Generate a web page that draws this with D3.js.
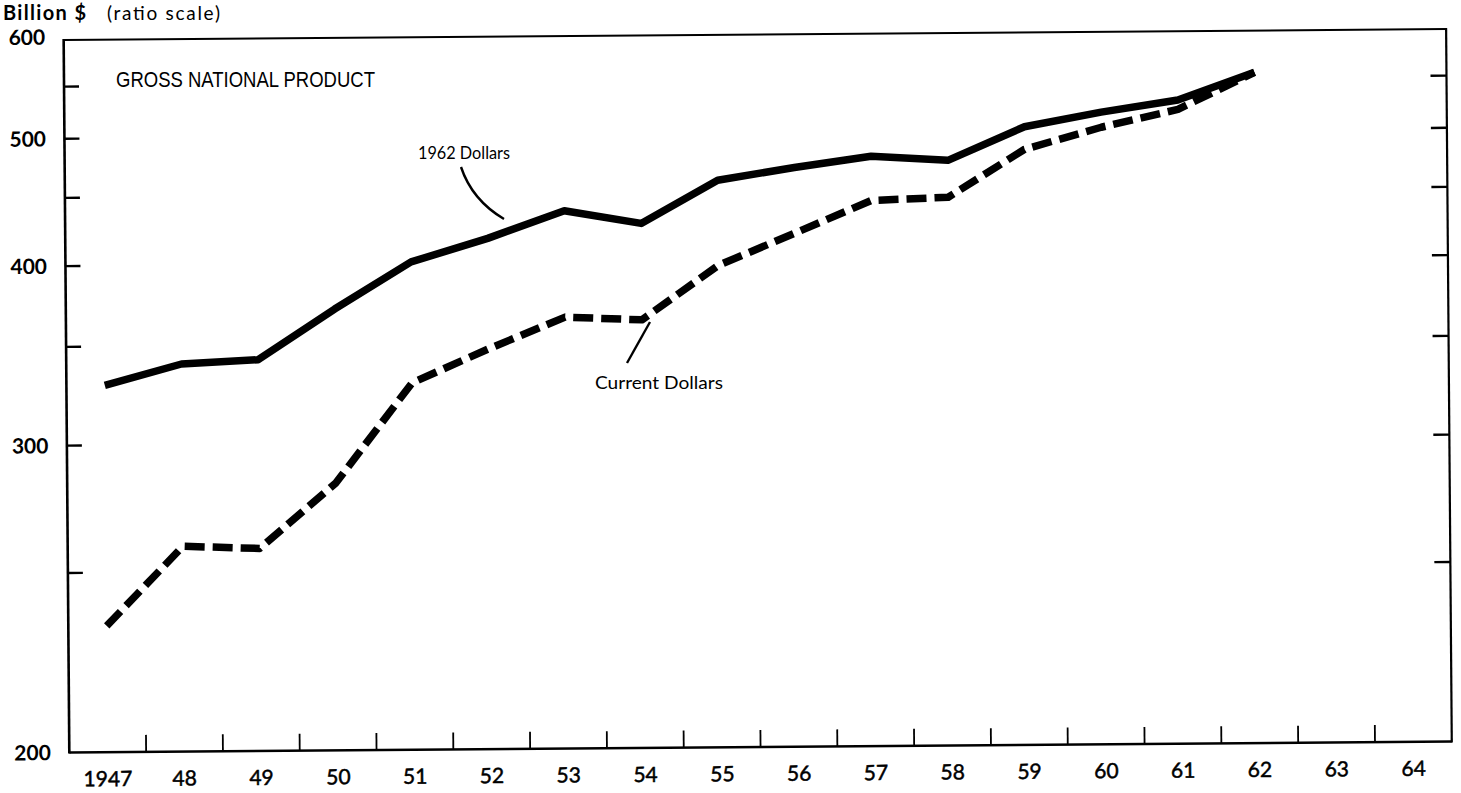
<!DOCTYPE html>
<html>
<head>
<meta charset="utf-8">
<script src="https://cdn.jsdelivr.net/npm/d3@7"></script>
<style>
  body { margin: 0; background: #fff; }
  text { fill: #000; }
</style>
</head>
<body>
<div class="viz"></div>
<script>
// Data (billion $)
const years = [1947, 1948, 1949, 1950, 1951, 1952, 1953, 1954, 1955, 1956, 1957, 1958, 1959, 1960, 1961, 1962];
const constantDollars = [329, 340, 342, 371, 401, 417, 437, 427, 460, 470, 479, 475, 504, 517, 528, 555];
const currentDollars = [233, 259, 258, 283, 329, 347, 365, 363, 397, 419, 443, 445, 484, 503, 519, 555];

const yTicks = [250, 300, 350, 400, 450, 500, 550];
const yLabels = [200, 300, 400, 500, 600];
const xLabels = ["1947", "48", "49", "50", "51", "52", "53", "54", "55", "56", "57", "58", "59", "60", "61", "62", "63", "64"];

const totalWidth = 1461;
const totalHeight = 793;

const svg = d3
  .select(".viz")
  .append("svg")
  .attr("width", totalWidth)
  .attr("height", totalHeight);

svg.append("rect").attr("width", totalWidth).attr("height", totalHeight).attr("fill", "#fff");

// the printed sheet sits a little crooked
const g = svg.append("g").attr("transform", "rotate(-0.455, 758, 395)");

const frame = { left: 66.5, right: 1449, top: 34.5, bottom: 747 };
const font = "Lato, 'Liberation Sans', sans-serif";

// Scales: ratio grid measured above a 100 floor, as printed
const floor = 100;
const yLog = d3.scaleLog().domain([200 - floor, 600 - floor]).range([frame.bottom, frame.top]);
const y = (v) => yLog(v - floor);
const x = d3.scaleLinear().domain([1946.5, 1964.5]).range([frame.left, frame.right]);

// Frame
g.append("line").attr("x1", frame.left).attr("x2", frame.right).attr("y1", frame.top).attr("y2", frame.top)
  .attr("stroke", "#000").attr("stroke-width", 2);
g.append("line").attr("x1", frame.left).attr("x2", frame.left).attr("y1", frame.top - 1).attr("y2", frame.bottom + 1)
  .attr("stroke", "#000").attr("stroke-width", 2.6);
g.append("line").attr("x1", frame.right).attr("x2", frame.right).attr("y1", frame.top - 1).attr("y2", frame.bottom + 1)
  .attr("stroke", "#000").attr("stroke-width", 2.2);
g.append("line").attr("x1", frame.left).attr("x2", frame.right).attr("y1", frame.bottom).attr("y2", frame.bottom)
  .attr("stroke", "#000").attr("stroke-width", 2.6);

// Y ticks on both sides, pointing in
g.selectAll(".ytick-l")
  .data(yTicks)
  .enter()
  .append("line")
  .attr("x1", frame.left)
  .attr("x2", frame.left + 15)
  .attr("y1", (d) => y(d))
  .attr("y2", (d) => y(d))
  .attr("stroke", "#000")
  .attr("stroke-width", 2.4);

g.selectAll(".ytick-r")
  .data(yTicks)
  .enter()
  .append("line")
  .attr("x1", frame.right - 16)
  .attr("x2", frame.right)
  .attr("y1", (d) => y(d))
  .attr("y2", (d) => y(d))
  .attr("stroke", "#000")
  .attr("stroke-width", 2.4);

g.selectAll(".ylabel")
  .data(yLabels)
  .enter()
  .append("text")
  .attr("x", 48)
  .attr("y", (d) => y(d) + (d === 600 ? -3 : 0))
  .attr("dy", "0.36em")
  .attr("text-anchor", "end")
  .style("font-family", font)
  .style("font-weight", "bold")
  .style("font-size", "21px")
  .text((d) => d);

// X ticks between years, pointing up
const xTickPos = d3.range(1947.5, 1964, 1);
g.selectAll(".xtick")
  .data(xTickPos)
  .enter()
  .append("line")
  .attr("x1", (d) => x(d))
  .attr("x2", (d) => x(d))
  .attr("y1", frame.bottom)
  .attr("y2", frame.bottom - 17)
  .attr("stroke", "#000")
  .attr("stroke-width", 1.8);

g.selectAll(".xlabel")
  .data(xLabels)
  .enter()
  .append("text")
  .attr("x", (d, i) => x(1947 + i))
  .attr("y", frame.bottom + 34)
  .attr("text-anchor", "middle")
  .attr("stroke", "#000")
  .attr("stroke-width", 0.5)
  .style("font-family", font)
  .style("font-size", "21px")
  .text((d) => d);

// Lines
const line = d3
  .line()
  .x((d) => x(d[0]))
  .y((d) => y(d[1]));

g.append("path")
  .datum(years.map((yr, i) => [yr, constantDollars[i]]))
  .attr("d", line)
  .attr("fill", "none")
  .attr("stroke", "#000")
  .attr("stroke-width", 7.5)
  .attr("stroke-linejoin", "round");

g.append("path")
  .datum(years.map((yr, i) => [yr, currentDollars[i]]))
  .attr("d", line)
  .attr("fill", "none")
  .attr("stroke", "#000")
  .attr("stroke-width", 7.5)
  .attr("stroke-dasharray", "20,8")
  .attr("stroke-linejoin", "round");

// Texts and leaders (page coordinates)
const title = svg.append("text")
  .attr("x", 3)
  .attr("y", 20)
  .style("font-family", font)
  .style("font-size", "19px");
title.append("tspan")
  .attr("textLength", 83)
  .style("font-weight", "bold")
  .style("font-size", "20px")
  .text("Billion $");
title.append("tspan").attr("x", 107).attr("textLength", 113).text("(ratio scale)");

svg.append("text")
  .attr("x", 116)
  .attr("y", 87)
  .attr("textLength", 259)
  .attr("lengthAdjust", "spacingAndGlyphs")
  .style("font-family", "'Liberation Sans', sans-serif")
  .style("font-size", "22px")
  .text("GROSS NATIONAL PRODUCT");

svg.append("text")
  .attr("x", 418)
  .attr("y", 159)
  .attr("textLength", 92)
  .attr("lengthAdjust", "spacingAndGlyphs")
  .style("font-family", font)
  .style("font-size", "17px")
  .text("1962 Dollars");

svg.append("text")
  .attr("x", 595)
  .attr("y", 389)
  .attr("textLength", 128)
  .attr("lengthAdjust", "spacingAndGlyphs")
  .style("font-family", font)
  .style("font-size", "18px")
  .text("Current Dollars");

svg.append("path")
  .attr("d", "M461,167 Q472,200 504,219")
  .attr("fill", "none")
  .attr("stroke", "#000")
  .attr("stroke-width", 2.4);

svg.append("path")
  .attr("d", "M650,322 L627,363")
  .attr("fill", "none")
  .attr("stroke", "#000")
  .attr("stroke-width", 2.4);
</script>
</body>
</html>
